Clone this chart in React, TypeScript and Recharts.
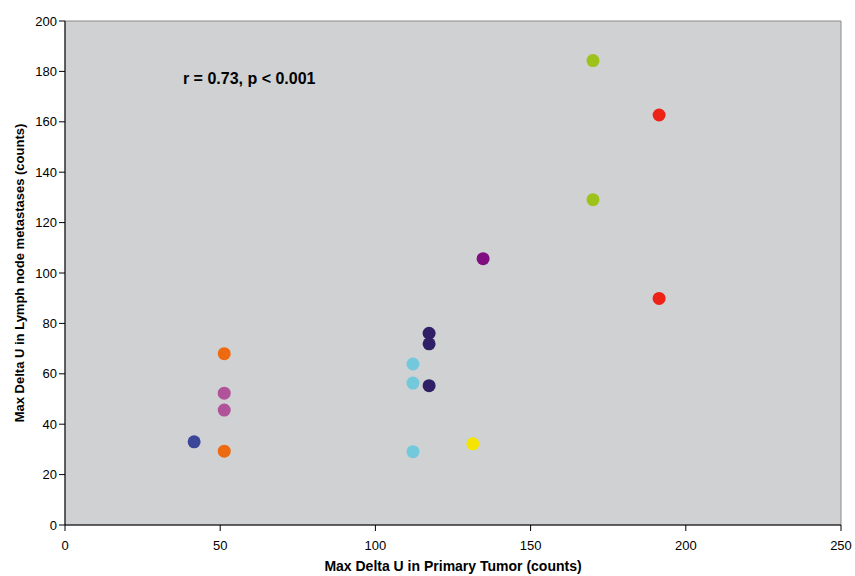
import {
  ReferenceArea,
  ReferenceDot,
  Scatter,
  ScatterChart,
  XAxis,
  YAxis,
} from 'recharts'

type Pt = { x: number; y: number }

const xTicks = [0, 50, 100, 150, 200, 250]
const yTicks = [0, 20, 40, 60, 80, 100, 120, 140, 160, 180, 200]

const blueGroup: Pt[] = [{ x: 41.6, y: 33 }]
const orangeGroup: Pt[] = [
  { x: 51.3, y: 29.3 },
  { x: 51.3, y: 68 },
]
const pinkGroup: Pt[] = [
  { x: 51.3, y: 52.3 },
  { x: 51.3, y: 45.6 },
]
const cyanGroup: Pt[] = [
  { x: 112.1, y: 63.9 },
  { x: 112.1, y: 56.3 },
  { x: 112.1, y: 29.1 },
]
const navyGroup: Pt[] = [
  { x: 117.3, y: 76.1 },
  { x: 117.3, y: 71.9 },
  { x: 117.3, y: 55.3 },
]
const yellowGroup: Pt[] = [{ x: 131.4, y: 32.2 }]
const purpleGroup: Pt[] = [{ x: 134.7, y: 105.7 }]
const greenGroup: Pt[] = [
  { x: 170.1, y: 184.3 },
  { x: 170.1, y: 129.1 },
]
const redGroup: Pt[] = [
  { x: 191.4, y: 162.7 },
  { x: 191.4, y: 89.9 },
]

const groups = [
  { data: blueGroup, color: '#3c4699' },
  { data: orangeGroup, color: '#ee6a10' },
  { data: pinkGroup, color: '#b0539a' },
  { data: cyanGroup, color: '#72c9dc' },
  { data: navyGroup, color: '#2e1f66' },
  { data: yellowGroup, color: '#f5e400' },
  { data: purpleGroup, color: '#800e80' },
  { data: greenGroup, color: '#9dc21a' },
  { data: redGroup, color: '#ec2316' },
]

const font = '"Liberation Sans", Arial, sans-serif'

const dot = (color: string) => (props: any) => (
  <circle cx={props.cx} cy={props.cy} r={6.5} fill={color} />
)

export default function App() {
  return (
    <div style={{ position: 'absolute', left: 0, top: 0, fontFamily: font }}>
      <ScatterChart
        width={855}
        height={576}
        margin={{ top: 21, right: 14, left: 20, bottom: 21 }}
      >
        <ReferenceArea
          x1={0}
          x2={250}
          y1={0}
          y2={200}
          fill="#d0d1d3"
          fillOpacity={1}
          stroke="#8a8a8a"
          strokeWidth={1}
          ifOverflow="extendDomain"
        />
        <XAxis
          type="number"
          dataKey="x"
          domain={[0, 250]}
          ticks={xTicks}
          height={30}
          stroke="#000"
          tickMargin={10}
          tickLine={{ stroke: '#000' }}
          tick={{ fill: '#000', fontSize: 13, fontFamily: font }}
          label={{
            value: 'Max Delta U in Primary Tumor (counts)',
            position: 'insideBottom',
            offset: -16,
            style: { fontWeight: 'bold', fontSize: 14, fill: '#000', fontFamily: font },
          }}
        />
        <YAxis
          type="number"
          dataKey="y"
          domain={[0, 200]}
          ticks={yTicks}
          width={45}
          stroke="#000"
          tickLine={{ stroke: '#000' }}
          tick={{ fill: '#000', fontSize: 13, fontFamily: font }}
          label={{
            value: 'Max Delta U in Lymph node metastases (counts)',
            angle: -90,
            position: 'insideLeft',
            offset: -1,
            style: {
              textAnchor: 'middle',
              fontWeight: 'bold',
              fontSize: 13,
              fill: '#000',
              fontFamily: font,
            },
          }}
        />
        <ReferenceDot
          x={38}
          y={177.5}
          r={0}
          label={(p: any) => (
            <text
              x={p.viewBox?.x ?? 0}
              y={(p.viewBox?.y ?? 0) + 6}
              fontFamily={font}
              fontSize={16}
              fontWeight="bold"
              fill="#000"
            >
              r = 0.73, p &lt; 0.001
            </text>
          )}
        />
        {groups.map((g, i) => (
          <Scatter
            key={i}
            data={g.data}
            fill={g.color}
            shape={dot(g.color)}
            isAnimationActive={false}
          />
        ))}
      </ScatterChart>
    </div>
  )
}
